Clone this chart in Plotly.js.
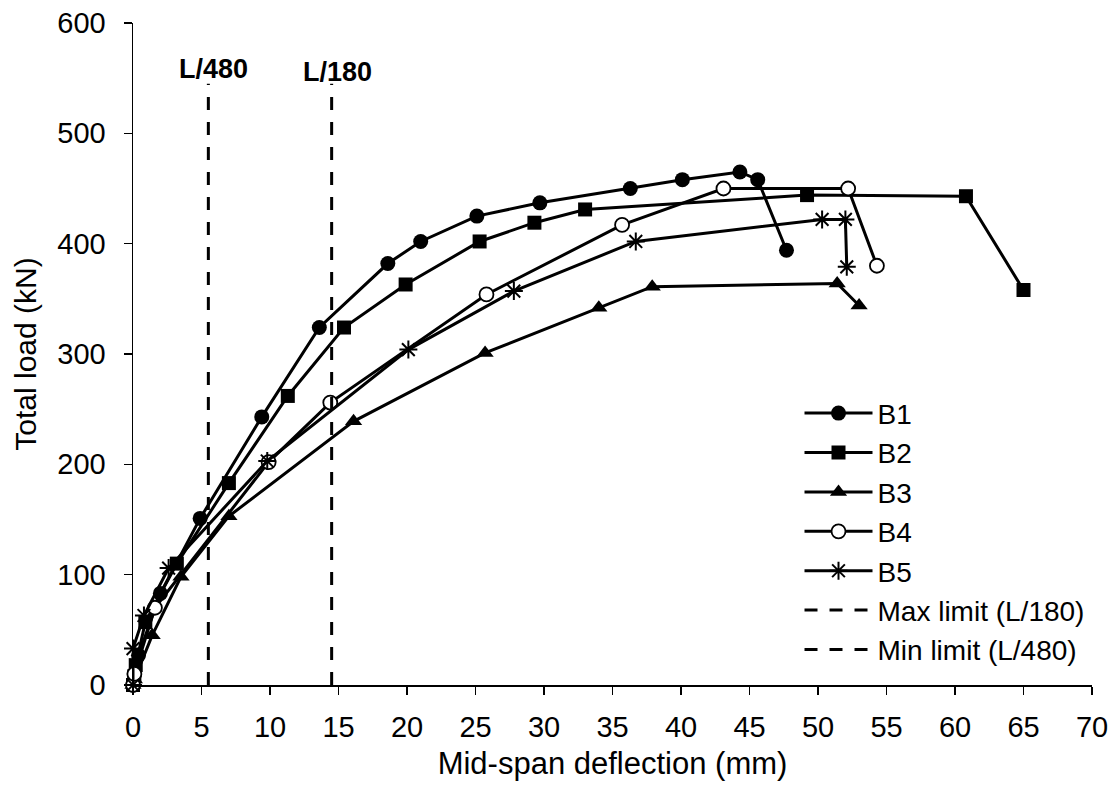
<!DOCTYPE html>
<html>
<head>
<meta charset="utf-8">
<script src="https://cdn.plot.ly/plotly-3.0.1.min.js"></script>
<style>html,body{margin:0;padding:0;background:#fff;}#chart{width:1120px;height:787px;}</style>
</head>
<body>
<div id="chart"></div>
<script>
// Mid-span deflection (mm) and total load (kN) for each beam
const b1_x = [0, 0.1, 0.4, 2.0, 4.9, 9.4, 13.6, 18.6, 21.0, 25.1, 29.7, 36.3, 40.1, 44.3, 45.6, 47.7];
const b1_y = [0, 10, 27, 83, 151, 243, 324, 382, 402, 425, 437, 450, 458, 465, 458, 394];
const b2_x = [0, 0.1, 0.2, 0.9, 3.2, 7.0, 11.3, 15.4, 19.9, 25.3, 29.3, 33.0, 49.2, 60.8, 65.0];
const b2_y = [0, 8, 18, 57, 110, 183, 262, 324, 363, 402, 419, 431, 444, 443, 358];
const b3_x = [0, 0.1, 1.4, 3.5, 7.0, 16.1, 25.7, 34.0, 37.9, 51.4, 53.0];
const b3_y = [0, 5, 45, 98, 153, 239, 301, 342, 361, 364, 344];
const b4_x = [0, 0.1, 1.6, 9.9, 14.4, 25.8, 35.7, 43.1, 52.2, 54.3];
const b4_y = [0, 10, 70, 202, 256, 354, 417, 450, 450, 380];
const b5_x = [0, 0, 0.8, 2.6, 9.8, 20.1, 27.8, 36.7, 50.3, 52.0, 52.1];
const b5_y = [0, 33, 63, 106, 203, 304, 357, 402, 422, 422, 379];
// Deflection limits (mm)
const limit_max = 14.5;   // L/180
const limit_min = 5.5;    // L/480
const limit_y = [0, 545];
const x_ticks = [0, 5, 10, 15, 20, 25, 30, 35, 40, 45, 50, 55, 60, 65, 70];
const y_ticks = [0, 100, 200, 300, 400, 500, 600];

const black = '#000000';
function series(name, x, y, marker) {
  return {
    type: 'scatter', mode: 'lines+markers', name: name, x: x, y: y,
    cliponaxis: false,
    line: {color: black, width: 3},
    marker: marker
  };
}
const traces = [
  series('B1', b1_x, b1_y, {symbol: 'circle', size: 15, color: black, line: {width: 0}}),
  series('B2', b2_x, b2_y, {symbol: 'square', size: 14, color: black, line: {width: 0}}),
  series('B3', b3_x, b3_y, {symbol: 'triangle-up', size: 15, color: black, line: {width: 0}}),
  series('B4', b4_x, b4_y, {symbol: 'circle', size: 14, color: '#ffffff', line: {color: black, width: 1.8}}),
  series('B5', b5_x, b5_y, {symbol: 'asterisk-open', size: 15, color: black, line: {color: black, width: 2}}),
  {type: 'scatter', mode: 'lines', name: 'Max limit (L/180)',
   x: [limit_max, limit_max], y: limit_y, cliponaxis: false,
   line: {color: black, width: 3, dash: '13px,12px'}},
  {type: 'scatter', mode: 'lines', name: 'Min limit (L/480)',
   x: [limit_min, limit_min], y: limit_y, cliponaxis: false,
   line: {color: black, width: 3, dash: '13px,12px'}}
];

const layout = {
  width: 1120, height: 787,
  margin: {l: 133, r: 28, t: 23, b: 102, pad: 0},
  paper_bgcolor: '#fff', plot_bgcolor: '#fff',
  font: {family: 'Liberation Sans, Arial, sans-serif', color: black, size: 29},
  showlegend: true,
  legend: {x: 0.695, y: 0.448, xanchor: 'left', yanchor: 'top',
    font: {size: 28, color: black}, bgcolor: 'rgba(0,0,0,0)',
    tracegroupgap: 0, itemwidth: 68},
  xaxis: {range: [0, 70], tickvals: x_ticks, ticktext: x_ticks.map(String),
    showgrid: false, zeroline: false, showline: true, linecolor: black, linewidth: 1.5,
    ticks: 'outside', ticklen: 8, tickwidth: 1.5, tickcolor: black,
    ticklabelstandoff: 8, tickfont: {size: 29},
    title: {text: 'Mid-span deflection (mm)', font: {size: 31}, standoff: 10}},
  yaxis: {range: [0, 600], tickvals: y_ticks, ticktext: y_ticks.map(String),
    showgrid: false, zeroline: false, showline: true, linecolor: black, linewidth: 1.5,
    ticks: 'outside', ticklen: 8, tickwidth: 1.5, tickcolor: black,
    ticklabelstandoff: 12, tickfont: {size: 29},
    title: {text: 'Total load (kN)', font: {size: 30}, standoff: 12}},
  annotations: [
    {x: limit_min, y: limit_y[1], xref: 'x', yref: 'y', text: '<b>L/480</b>', showarrow: false,
     xanchor: 'center', yanchor: 'bottom', xshift: 5, yshift: -2, font: {size: 27}},
    {x: limit_max, y: limit_y[1], xref: 'x', yref: 'y', text: '<b>L/180</b>', showarrow: false,
     xanchor: 'center', yanchor: 'bottom', xshift: 6, yshift: -5, font: {size: 27}}
  ]
};
Plotly.newPlot('chart', traces, layout, {staticPlot: true, displayModeBar: false});
</script>
</body>
</html>
